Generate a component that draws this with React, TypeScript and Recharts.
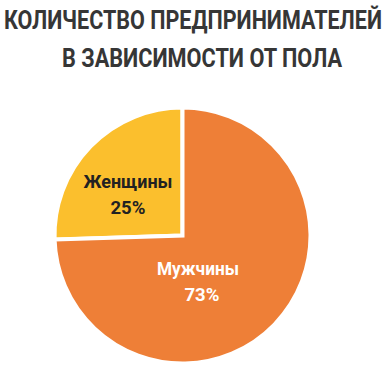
import { PieChart, Pie, Cell } from "recharts";

const genders = ["Женщины", "Мужчины"];
const shares = [25, 73];
const titleLines = ["КОЛИЧЕСТВО ПРЕДПРИНИМАТЕЛЕЙ", "В ЗАВИСИМОСТИ ОТ ПОЛА"];

const COLORS = ["#FBBF2D", "#EE7F37"];
const LABEL_COLORS = ["#222222", "#FFFFFF"];
const FONT = "Roboto, 'DejaVu Sans', sans-serif";

const data = genders.map((name, i) => ({ name, value: shares[i] }));

// label block centres relative to the pie centre (fraction of outer radius),
// plus squeezed widths for the name and percent lines
const LABEL_POS = [
    { x: -0.426, y: -0.27, nameW: 89, pctW: 35 },
    { x: 0.121, y: 0.414, nameW: 82, pctW: 35 },
];

const renderLabel = (props: any) => {
    const { cx, cy, outerRadius, index, name, value } = props;
    const pos = LABEL_POS[index];
    const x = cx + pos.x * outerRadius;
    const y = cy + pos.y * outerRadius;
    return (
        <text
            x={x}
            y={y}
            textAnchor="middle"
            fill={LABEL_COLORS[index]}
            fontFamily={FONT}
            fontWeight="bold"
            fontSize={18.5}
        >
            <tspan x={x} y={y - 13} textLength={pos.nameW} lengthAdjust="spacingAndGlyphs">
                {name}
            </tspan>
            <tspan x={x + index * 4} y={y + 13} textLength={pos.pctW} lengthAdjust="spacingAndGlyphs">
                {value}%
            </tspan>
        </text>
    );
};

// condensed title line: small font stretched vertically
const TitleLine = ({ x, y, width, children }: any) => (
    <g transform={`translate(${x}, ${y}) scale(1, 1.32)`}>
        <text
            x={0}
            y={0}
            textAnchor="middle"
            fontFamily={FONT}
            fontWeight="bold"
            fontSize={19}
            fill="#363636"
            textLength={width}
            lengthAdjust="spacingAndGlyphs"
        >
            {children}
        </text>
    </g>
);

const App = () => {
    return (
        <div
            style={{
                position: "absolute",
                left: 0,
                top: 0,
                width: 386,
                height: 365,
                background: "#fff",
                overflow: "hidden",
            }}
        >
            <svg width={386} height={80} style={{ position: "absolute", left: 0, top: 0 }}>
                <TitleLine x={193} y={28.5} width={378}>
                    {titleLines[0]}
                </TitleLine>
                <TitleLine x={202} y={66.5} width={280}>
                    {titleLines[1]}
                </TitleLine>
            </svg>
            <PieChart
                width={386}
                height={365}
                margin={{ top: 0, right: 0, bottom: 0, left: 0 }}
                style={{ position: "absolute", left: 0, top: 0 }}
            >
                <Pie
                    data={data}
                    dataKey="value"
                    nameKey="name"
                    cx={182.5}
                    cy={235.5}
                    outerRadius={128}
                    startAngle={90}
                    endAngle={450}
                    stroke="#ffffff"
                    strokeWidth={4}
                    labelLine={false}
                    label={renderLabel}
                    isAnimationActive={false}
                >
                    {data.map((d, i) => (
                        <Cell key={d.name} fill={COLORS[i]} />
                    ))}
                </Pie>
            </PieChart>
        </div>
    );
};

export default App;
